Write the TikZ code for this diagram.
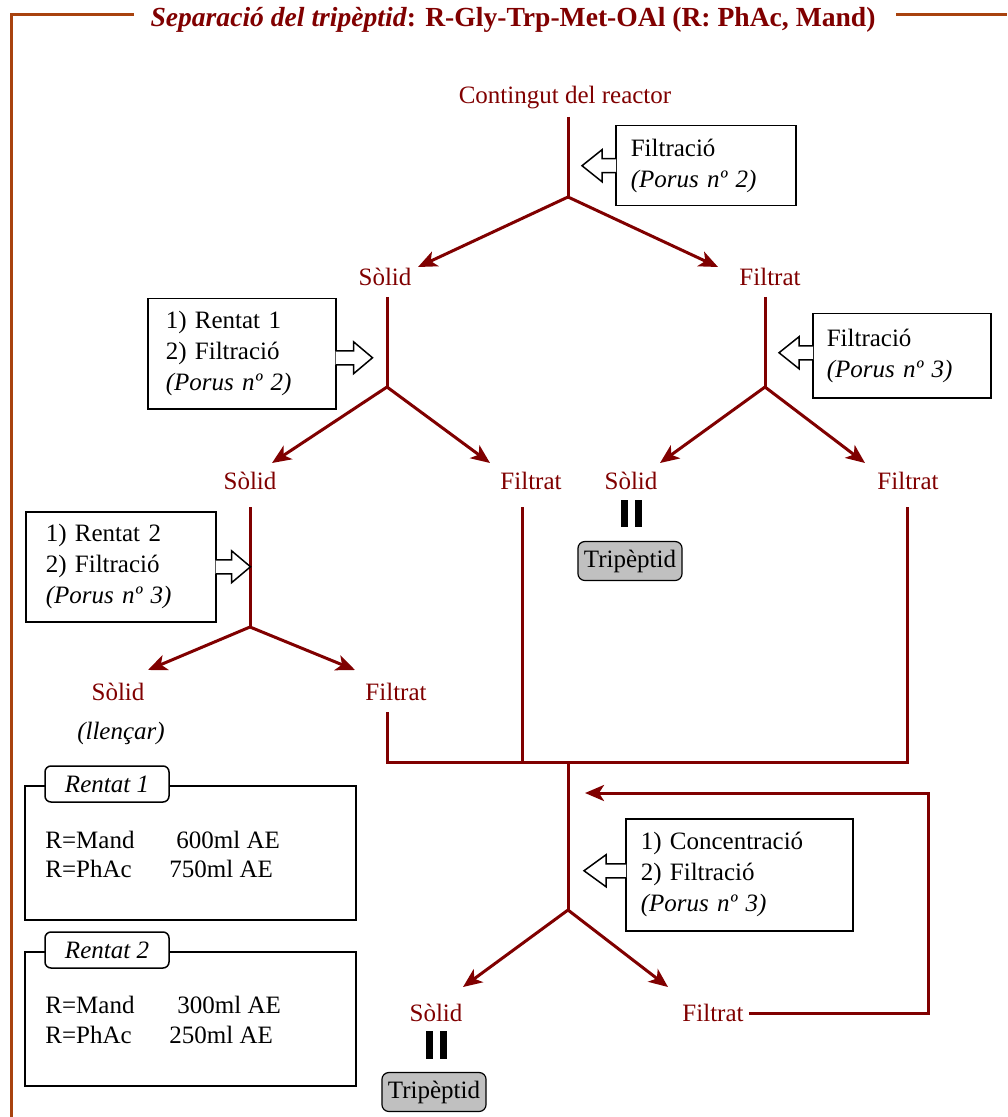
\documentclass[tikz,border=0pt]{standalone}
\usepackage{fontspec}
\setmainfont{Liberation Serif}
\usetikzlibrary{arrows.meta}
\definecolor{flowred}{RGB}{128,0,0}
\definecolor{framebrown}{RGB}{168,66,14}
\definecolor{tagfill}{RGB}{192,192,192}

\begin{document}
\begin{tikzpicture}[x=0.5pt,y=-0.5pt,
  every node/.style={font=\fontsize{12.5}{15.5}\selectfont},
  lbl/.style={text=flowred, inner sep=0pt},
  flow/.style={draw=flowred, line width=1.5pt},
  flowarrow/.style={flow, -{Stealth[length=9.5pt,width=8pt,inset=2.5pt]}},
  stepbox/.style={draw=black, line width=0.75pt, fill=white, align=left, anchor=north west, inner ysep=0pt},
  barrow/.style={draw=black, fill=white, line width=0.75pt, line join=miter},
  tablebox/.style={draw=black, line width=0.9pt},
  tabtag/.style={draw=black, fill=white, line width=0.75pt, rounded corners=3pt, minimum width=62pt, minimum height=18pt, font=\fontsize{12.5}{15}\selectfont\itshape},
  product/.style={draw=black, fill=tagfill, line width=0.6pt, rounded corners=3.5pt, inner xsep=3pt, minimum height=19.5pt},
  eqbar/.style={line width=3.5pt, draw=black},
  cell/.style={anchor=west, inner sep=0pt}
]
\useasboundingbox (0,0) rectangle (1007,1117);

% outer frame with the title set into its top edge
\draw[framebrown, line width=1.5pt] (134,15) -- (11,15) -- (11,1117);
\draw[framebrown, line width=1.5pt] (896,15) -- (1007,15);
\node[text=flowred, inner sep=0pt, font=\fontsize{13.8}{16}\selectfont\bfseries] (title) at (513,20)
  {\textit{Separació del tripèptid}: R-Gly-Trp-Met-OAl (R: PhAc, Mand)};

% ---- first separation ----
\node[lbl] (reactor) at (565,98) {Contingut del reactor};
\node[lbl] (s1) at (385,277) {Sòlid};
\node[lbl] (f1) at (770,277) {Filtrat};
\coordinate (j1) at (568,197);
\coordinate (t1s) at (418,267);
\coordinate (t1f) at (718,267);
\draw[flow] (568,117) -- (j1);
\draw[flowarrow] (j1) -- (t1s);
\draw[flowarrow] (j1) -- (t1f);

\node[stepbox, minimum width=90pt, minimum height=40pt, text width=75pt, inner xsep=7.5pt] (b1) at (615,125)
  {Filtració\\\textit{(Porus nº 2)}};
\filldraw[barrow] (b1.west) ++(1,-7) -- ++(-14,0) -- ++(0,-9) -- ++(-20,16) -- ++(20,16) -- ++(0,-9) -- ++(14,0);

% ---- washing of the first solid ----
\node[lbl] (s2) at (250,481) {Sòlid};
\node[lbl] (f2) at (531,481) {Filtrat};
\coordinate (j2) at (387,387);
\coordinate (t2s) at (272,463);
\coordinate (t2f) at (490,463);
\draw[flow] (387,297) -- (j2);
\draw[flowarrow] (j2) -- (t2s);
\draw[flowarrow] (j2) -- (t2f);

\node[stepbox, minimum width=94pt, minimum height=55pt, text width=76pt, inner xsep=9pt] (b2) at (147,298)
  {1) Rentat 1\\2) Filtració\\\textit{(Porus nº 2)}};
\filldraw[barrow] (b2.east) ++(-1,-3) -- ++(18,0) -- ++(0,-9) -- ++(19,16) -- ++(-19,16) -- ++(0,-9) -- ++(-18,0);

% ---- filtration of the first filtrate ----
\node[lbl] (s3) at (631,481) {Sòlid};
\node[lbl] (f3) at (908,481) {Filtrat};
\coordinate (j3) at (765,387);
\coordinate (t3s) at (660,463);
\coordinate (t3f) at (865,463);
\draw[flow] (765,297) -- (j3);
\draw[flowarrow] (j3) -- (t3s);
\draw[flowarrow] (j3) -- (t3f);

\node[stepbox, minimum width=89pt, minimum height=42pt, text width=75pt, inner xsep=7pt] (b3) at (812,313)
  {Filtració\\\textit{(Porus nº 3)}};
\filldraw[barrow] (b3.west) ++(1,-10) -- ++(-14,0) -- ++(0,-9) -- ++(-20,16) -- ++(20,16) -- ++(0,-9) -- ++(14,0);

\node[product] (p1) at (630,561) {Tripèptid};
\draw[eqbar] (s3.south) ++(-7,10) -- ++(0,27);
\draw[eqbar] (s3.south) ++(7,10) -- ++(0,27);

% ---- second washing ----
\node[lbl] (s4) at (118,692) {Sòlid};
\node[lbl] (f4) at (396,692) {Filtrat};
\node[inner sep=0pt, font=\fontsize{12.5}{15}\selectfont\itshape] (discard) at (121,733) {(llençar)};
\coordinate (j4) at (250,627);
\coordinate (t4s) at (148,670);
\coordinate (t4f) at (355,670);
\draw[flow] (250,507) -- (j4);
\draw[flowarrow] (j4) -- (t4s);
\draw[flowarrow] (j4) -- (t4f);

\node[stepbox, minimum width=95pt, minimum height=55pt, text width=75pt, inner xsep=10pt] (b4) at (25,511)
  {1) Rentat 2\\2) Filtració\\\textit{(Porus nº 3)}};
\filldraw[barrow] (b4.east) ++(-1,-7) -- ++(16,0) -- ++(0,-9) -- ++(19,16) -- ++(-19,16) -- ++(0,-9) -- ++(-16,0);

% ---- filtrates collected together ----
\coordinate (m1) at (387,762);
\coordinate (m2) at (522,762);
\coordinate (m3) at (568,762);
\coordinate (m4) at (907,762);
\draw[flow] (387,712) -- (m1) -- (m4) -- (907,507);
\draw[flow] (522,507) -- (m2);

% ---- concentration ----
\node[lbl] (s5) at (436,1013) {Sòlid};
\node[lbl] (f5) at (713,1013) {Filtrat};
\coordinate (j5) at (568,910);
\coordinate (t5s) at (463,987);
\coordinate (t5f) at (668,987);
\coordinate (r1) at (928,1013);
\coordinate (r2) at (928,793);
\coordinate (r3) at (585,793);
\draw[flow] (m3) -- (j5);
\draw[flowarrow] (j5) -- (t5s);
\draw[flowarrow] (j5) -- (t5f);
\draw[flowarrow] (f5.east) ++(5,0) -- (r1) -- (r2) -- (r3);

\node[stepbox, minimum width=113.5pt, minimum height=56pt, text width=98.5pt, inner xsep=7.5pt] (b5) at (625,818)
  {1) Concentració\\2) Filtració\\\textit{(Porus nº 3)}};
\filldraw[barrow] (b5.west) ++(1,-11) -- ++(-20,0) -- ++(0,-9) -- ++(-22,16) -- ++(22,16) -- ++(0,-9) -- ++(20,0);

\node[product] (p2) at (434,1092) {Tripèptid};
\draw[eqbar] (s5.south) ++(-7,9) -- ++(0,28);
\draw[eqbar] (s5.south) ++(7,9) -- ++(0,28);

% ---- washing volumes ----
\draw[tablebox] (25,786) rectangle (356,920);
\node[tabtag] (w1) at (107,784) {Rentat 1};
\node[cell] (w1a) at (45,840) {R=Mand};
\node[cell] (w1b) at (176,840) {600ml AE};
\node[cell] (w1c) at (45,869) {R=PhAc};
\node[cell] (w1d) at (169,869) {750ml AE};

\draw[tablebox] (25,952) rectangle (356,1086);
\node[tabtag] (w2) at (107,950) {Rentat 2};
\node[cell] (w2a) at (45,1005) {R=Mand};
\node[cell] (w2b) at (177,1005) {300ml AE};
\node[cell] (w2c) at (45,1035) {R=PhAc};
\node[cell] (w2d) at (169,1035) {250ml AE};
\end{tikzpicture}
\end{document}
